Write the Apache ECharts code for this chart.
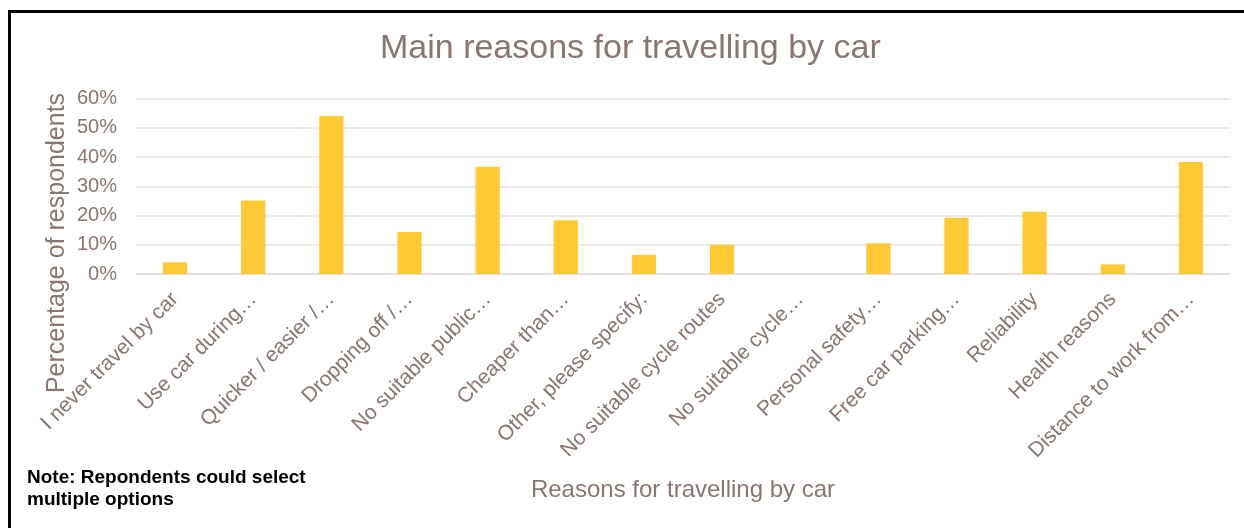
<!DOCTYPE html>
<html>
<head>
<meta charset="utf-8">
<title>Main reasons for travelling by car</title>
<script src="https://cdn.jsdelivr.net/npm/echarts@6/dist/echarts.min.js"></script>
<style>
  html, body { margin: 0; padding: 0; background: #ffffff; }
  #chart { width: 1244px; height: 528px; }
</style>
</head>
<body>
<div id="chart"></div>
<script>
// Survey: reasons respondents give for travelling by car (multiple answers allowed)
const reasons = [
  'I never travel by car',
  'Use car during\u2026',
  'Quicker / easier /\u2026',
  'Dropping off /\u2026',
  'No suitable public\u2026',
  'Cheaper than\u2026',
  'Other, please specify:',
  'No suitable cycle routes',
  'No suitable cycle\u2026',
  'Personal safety\u2026',
  'Free car parking\u2026',
  'Reliability',
  'Health reasons',
  'Distance to work from\u2026'
];

// Percentage of respondents choosing each reason
const percentRespondents = [4.0, 25.1, 54.0, 14.4, 36.7, 18.4, 6.5, 10.0, 0, 10.5, 19.2, 21.3, 3.3, 38.3];

// Value axis ticks
const yMin = 0;
const yMax = 60;
const yStep = 10;

const textColor = '#8a7670';
const fontFamily = '"Liberation Sans", Arial, sans-serif';

const chart = echarts.init(document.getElementById('chart'), null, { renderer: 'canvas' });

chart.setOption({
  backgroundColor: '#ffffff',
  animation: false,
  title: {
    text: 'Main reasons for travelling by car',
    left: 380,
    top: 32,
    padding: 0,
    textStyle: { color: textColor, fontFamily: fontFamily, fontSize: 34, fontWeight: 'normal' }
  },
  grid: { left: 136, right: 14, top: 98.5, bottom: 254, containLabel: false },
  xAxis: {
    type: 'category',
    data: reasons,
    name: 'Reasons for travelling by car',
    nameLocation: 'middle',
    nameGap: 204,
    nameTextStyle: { color: textColor, fontFamily: fontFamily, fontSize: 24 },
    axisLine: { show: true, lineStyle: { color: '#e3dcdc', width: 1.5 } },
    axisTick: { show: false },
    axisLabel: {
      rotate: 45,
      interval: 0,
      margin: 22,
      color: textColor,
      fontFamily: fontFamily,
      fontSize: 21
    }
  },
  yAxis: {
    type: 'value',
    min: yMin,
    max: yMax,
    interval: yStep,
    axisLine: { show: false },
    axisTick: { show: false },
    splitLine: { lineStyle: { color: '#e8e2e2', width: 1.5 } },
    axisLabel: {
      formatter: '{value}%',
      margin: 19,
      color: textColor,
      fontFamily: fontFamily,
      fontSize: 20
    }
  },
  series: [{
    type: 'bar',
    data: percentRespondents,
    barCategoryGap: '69%',
    itemStyle: { color: '#ffc936' }
  }],
  graphic: [
    {
      // chart frame (open at the right and bottom edges)
      type: 'rect',
      shape: { x: 9.5, y: 11.5, width: 1400, height: 700 },
      style: { fill: 'none', stroke: '#000000', lineWidth: 3 },
      silent: true
    },
    {
      type: 'text',
      x: 57,
      y: 243,
      rotation: Math.PI / 2,
      style: {
        text: 'Percentage of respondents',
        fill: textColor,
        font: '25px ' + fontFamily,
        align: 'center',
        verticalAlign: 'middle'
      }
    },
    {
      type: 'text',
      x: 27,
      y: 467,
      style: {
        text: 'Note: Repondents could select\nmultiple options',
        fill: '#000000',
        font: 'bold 19px ' + fontFamily,
        lineHeight: 22,
        align: 'left',
        verticalAlign: 'top'
      }
    }
  ]
});
</script>
</body>
</html>
